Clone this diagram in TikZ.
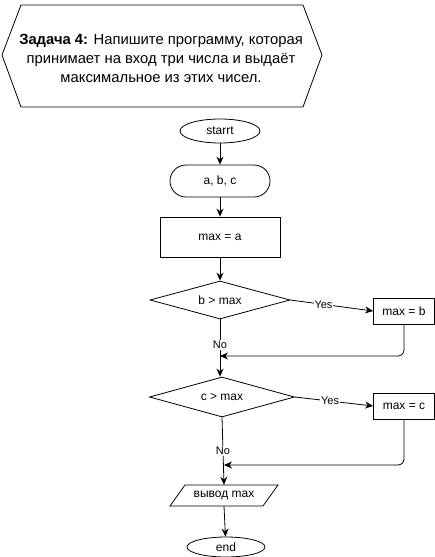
\documentclass[tikz,border=0pt]{standalone}
\usepackage{fontspec}
\setmainfont{Liberation Sans}
\usetikzlibrary{shapes.geometric,arrows.meta}
\begin{document}
\begin{tikzpicture}[x=1pt,y=-1pt,
  every node/.style={font=\fontsize{12}{14}\selectfont, inner sep=0pt},
  rbox/.style={draw, line width=0.8pt},
  arr/.style={draw, line width=0.8pt, -{Stealth[length=8pt,width=7pt]}},
  lbl/.style={fill=white, font=\fontsize{11}{13}\selectfont, inner sep=1pt}]
\useasboundingbox (0,0) rectangle (435,557);
% title hexagon
\draw[line width=0.8pt] (2,55) -- (21,5) -- (303,5) -- (322,55) -- (303,107) -- (21,107) -- cycle;
\node[align=center, font=\fontsize{14.8}{19}\selectfont] (title) at (161,58)
  {\textbf{Задача 4:} Напишите программу, которая\\принимает на вход три числа и выдаёт\\максимальное из этих чисел.};
% nodes
\node[rbox, ellipse, minimum width=80pt, minimum height=24pt] (start) at (220,131) {starrt};
\node[rbox, rounded corners=16pt, minimum width=100pt, minimum height=32pt] (abc) at (220,181) {a, b, c};
\node[rbox, minimum width=120pt, minimum height=40pt] (maxa) at (220,237) {max = a};
\node[rbox, diamond, minimum width=140pt, minimum height=38pt, aspect=3.6] (d1) at (220,300) {b > max};
\node[rbox, minimum width=61pt, minimum height=26pt] (mb) at (404,311) {max = b};
\node[rbox, diamond, minimum width=145pt, minimum height=40pt, aspect=3.6] (d2) at (222,397) {c > max};
\node[rbox, minimum width=61pt, minimum height=26pt] (mc) at (404,406) {max = c};
\node[minimum width=92pt, minimum height=21pt] (out) at (224,495.5) {вывод max};
\draw[line width=0.8pt] (170,506) -- (185,485) -- (278,485) -- (263,506) -- cycle;
\node[rbox, ellipse, minimum width=78pt, minimum height=20pt] (end) at (226,547) {end};
\coordinate (m1) at (220,356);
\coordinate (m2) at (224,465);
% connectors
\draw[arr] (start) -- (abc);
\draw[arr] (abc) -- (maxa);
\draw[arr] (maxa) -- (d1);
\draw[arr] (d1.east) -- node[lbl, pos=0.4] {Yes} (mb.west);
\draw[arr] (d1.south) -- node[lbl, pos=0.45] {No} (d1.south |- d2.north);
\draw[arr, rounded corners=6pt] (mb.south) |- (m1);
\draw[arr] (d2.east) -- node[lbl, pos=0.45] {Yes} (mc.west);
\draw[arr] (d2.south) -- node[lbl, pos=0.5] {No} (out.north);
\draw[arr, rounded corners=6pt] (mc.south) |- (m2);
\draw[arr] (out.south) -- (end);
\end{tikzpicture}
\end{document}
